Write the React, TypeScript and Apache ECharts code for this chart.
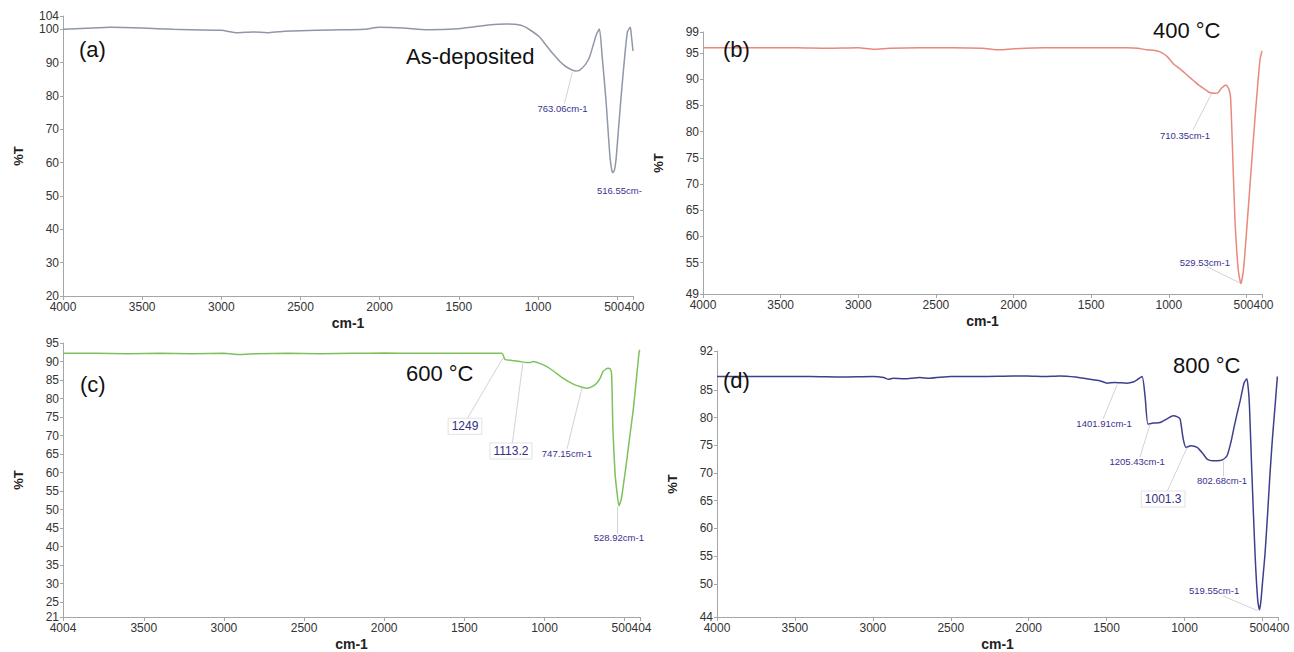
import React, { useEffect, useRef } from "react";
import * as echarts from "echarts";

// ---------- data (wavenumber cm-1, %T) ----------
const waveA = [4000,3850,3700,3500,3300,3000,2900,2800,2700,2600,2500,2300,2100,2000,1850,1700,1500,1400,1300,1200,1150,1100,1050,990,950,908,860,820,763,738,700,675,650,630,612,595,580,568,555,545,535,528,518,507,490,473,455,435,417,410,400];
const tA = [100.0,100.3,100.6,100.4,100.0,99.7,99.0,99.2,99.0,99.4,99.6,99.8,100.0,100.6,100.4,99.9,100.2,100.8,101.4,101.6,101.5,101.1,99.8,97.7,95.3,92.8,90.3,88.7,87.5,87.7,89.5,91.6,95.5,98.6,100.1,92,84,77,68,61.5,58,57,57.6,61,71,81,90.5,99.3,100.6,98,93.5];

const waveB = [4000,3800,3600,3400,3200,3000,2900,2800,2600,2400,2200,2088,2000,1800,1600,1400,1270,1200,1141,1100,1057,1010,973,930,883,840,800,760,735,700,684,660,632,612,602,589,574,553,536,522,510,478,446,413,400];
const tB = [96.0,96.0,96.0,96.0,95.9,96.0,95.7,95.9,96.0,96.0,95.9,95.6,95.8,96.0,96.0,96.0,96.0,95.9,95.6,95.5,95.2,94.3,93.0,92.0,90.8,89.7,88.7,87.9,87.4,87.3,87.4,88.3,88.9,88.0,86.3,75.9,63.1,53.6,51.0,53.0,56.8,69.5,82.2,93.7,95.4];

const waveC = [4004,3800,3600,3400,3200,3000,2900,2800,2600,2400,2200,2000,1800,1600,1400,1265,1247,1200,1153,1113,1090,1072,1030,985,940,885,820,760,735,700,673,650,635,604,590,581,573,560,550,535,520,505,488,467,446,425,409,404];
const tC = [92.2,92.2,92.1,92.2,92.1,92.2,91.9,92.1,92.2,92.1,92.2,92.3,92.2,92.2,92.2,92.2,90.6,90.3,90.0,89.7,89.7,90.0,89.5,88.6,87.3,85.5,83.9,83.0,82.8,83.3,84.2,85.7,87.3,88.2,88.0,86.5,71.7,60,55.6,51.0,53,57.5,62.8,70,77,86,92.7,93.1];

const waveD = [4000,3800,3600,3400,3200,3000,2930,2900,2870,2800,2700,2633,2500,2300,2100,2010,1900,1800,1700,1587,1540,1497,1450,1368,1330,1304,1272,1253,1234,1200,1157,1110,1073,1045,1028,1008,990,960,919,880,855,820,791,760,727,700,680,660,643,617,600,590,583,568,547,530,519,510,497,483,467,451,435,419,404];
const tD = [87.4,87.4,87.4,87.4,87.3,87.4,87.2,86.9,87.1,87.0,87.2,87.1,87.4,87.4,87.5,87.5,87.4,87.5,87.3,86.8,86.6,86.2,86.3,86.2,86.4,86.8,87.4,83.8,78.8,79.0,79.1,79.8,80.3,80.1,79.7,76.1,74.6,74.9,74.6,73.4,72.5,72.2,72.2,72.3,73.1,75.8,78.5,81.0,83.0,86.3,87.0,85,82.0,70.2,55.2,47,45.3,46.8,51,55.5,62.5,70,76.5,82,87.4];

// tick labels (the last x tick sits on an overlay axis so that both 500 and 400 show)
const xTicks = [4000,3500,3000,2500,2000,1500,1000,500,400];
const xTicksC = [4004,3500,3000,2500,2000,1500,1000,500,404];
const yTicksA = [20,30,40,50,60,70,80,90,100,104];
const yTicksB = [49,55,60,65,70,75,80,85,90,95,99];
const yTicksC = [21,25,30,35,40,45,50,55,60,65,70,75,80,85,90,95];
const yTicksD = [44,50,55,60,65,70,75,80,85,90,92];

// peak annotations: label centre, leader start, leader end (data coords)
const peaksA = [
  { text: "763.06cm-1", at: [845, 76.3], from: [833, 77.8], to: [783, 87.1] },
  { text: "516.55cm-", at: [486, 51.7] },
];
const peaksB = [
  { text: "710.35cm-1", at: [896, 79.3], from: [845, 80.3], to: [722, 87.4] },
  { text: "529.53cm-1", at: [768, 55.1], from: [755, 54.2], to: [542, 51.1] },
];
const peaksC = [
  { text: "1249", at: [1496, 72.5], from: [1484, 74.4], to: [1259, 91.0], boxed: true },
  { text: "1113.2", at: [1209, 65.8], from: [1203, 67.1], to: [1134, 89.9], boxed: true },
  { text: "747.15cm-1", at: [860, 65.2], from: [860, 66.3], to: [766, 82.9] },
  { text: "528.92cm-1", at: [536, 42.4], from: [548, 43.5], to: [548, 50.8] },
];
const peaksD = [
  { text: "1401.91cm-1", at: [1516, 78.9], from: [1522, 79.7], to: [1433, 85.9] },
  { text: "1205.43cm-1", at: [1304, 72.0], from: [1285, 72.9], to: [1221, 78.8] },
  { text: "1001.3", at: [1137, 65.3], from: [1112, 66.6], to: [983, 74.6], boxed: true },
  { text: "802.68cm-1", at: [759, 68.7], from: [752, 69.4], to: [752, 72.1] },
  { text: "519.55cm-1", at: [810, 48.8], from: [752, 47.8], to: [528, 45.1] },
];

// ---------- layout / style ----------
const FONT = '"Liberation Sans", Arial, sans-serif';

const panels = [
  { wave: waveA, t: tA, peaks: peaksA, color: "#8f97a8", xMin: 400, xMax: 4000, xT: xTicks, yMin: 20, yMax: 104, yT: yTicksA,
    grid: { left: 63, top: 16, width: 570, height: 280 }, tag: "(a)", tagPos: [79, 49], title: "As-deposited", titlePos: [406, 56] },
  { wave: waveB, t: tB, peaks: peaksB, color: "#e9887c", xMin: 400, xMax: 4000, xT: xTicks, yMin: 49, yMax: 99, yT: yTicksB,
    grid: { left: 703, top: 32, width: 559, height: 262 }, tag: "(b)", tagPos: [723, 49], title: "400 °C", titlePos: [1153, 30] },
  { wave: waveC, t: tC, peaks: peaksC, color: "#7cc25a", xMin: 404, xMax: 4004, xT: xTicksC, yMin: 21, yMax: 95, yT: yTicksC,
    grid: { left: 63, top: 343, width: 577, height: 276 }, tag: "(c)", tagPos: [80, 384], title: "600 °C", titlePos: [406, 373] },
  { wave: waveD, t: tD, peaks: peaksD, color: "#3e3f8e", xMin: 400, xMax: 4000, xT: xTicks, yMin: 44, yMax: 92, yT: yTicksD,
    grid: { left: 717, top: 351, width: 561, height: 268 }, tag: "(d)", tagPos: [723, 380], title: "800 °C", titlePos: [1173, 365] },
];

const TICK_FONT = { fontFamily: FONT, fontSize: 12, color: "#333" };
const richTicks = {
  s: { ...TICK_FONT, padding: [0, 6, 0, 0] },
  e: { ...TICK_FONT, padding: [0, 0, 0, 3] },
};
const mainFmt = (v: number) => (v === 500 ? "{s|500}" : String(v));
const endFmt = (v: number) => "{e|" + String(v) + "}";
const plain = (v: number) => String(v);

export default function App() {
  const ref = useRef<HTMLDivElement>(null);
  useEffect(() => {
    document.body.style.margin = "0";
    if (!ref.current) return;
    const chart = echarts.init(ref.current, null, { renderer: "svg" });
    const axisLineStyle = { color: "#a6a6a6", width: 1 };
    const tickLabel = { ...TICK_FONT, margin: 5, hideOverlap: false };

    const mainX = panels.map((p, i) => {
      const ticks = p.xT.slice(0, -1);
      return {
        type: "value",
        gridIndex: i,
        position: "bottom",
        inverse: true,
        min: p.xMin,
        max: p.xMax,
        name: "cm-1",
        nameLocation: "middle",
        nameGap: 20,
        nameTextStyle: { fontFamily: FONT, fontSize: 14, fontWeight: "bold", color: "#222" },
        axisLine: { lineStyle: axisLineStyle },
        axisTick: { show: true, length: 4, customValues: ticks, lineStyle: axisLineStyle },
        axisLabel: { ...tickLabel, customValues: ticks, formatter: mainFmt, rich: richTicks, showMinLabel: true, showMaxLabel: true },
        splitLine: { show: false },
      };
    });
    const endX = panels.map((p, i) => {
      const ticks = p.xT.slice(-1);
      return {
        type: "value",
        gridIndex: i,
        position: "bottom",
        offset: 0,
        inverse: true,
        min: p.xMin,
        max: p.xMax,
        axisLine: { show: false },
        axisTick: { show: true, length: 4, customValues: ticks, lineStyle: axisLineStyle },
        axisLabel: { ...tickLabel, customValues: ticks, formatter: endFmt, rich: richTicks, showMinLabel: true, showMaxLabel: true },
        splitLine: { show: false },
      };
    });

    const option: any = {
      animation: false,
      backgroundColor: "#ffffff",
      grid: panels.map((p) => ({ ...p.grid, containLabel: false })),
      xAxis: [...mainX, ...endX],
      yAxis: panels.map((p, i) => ({
        type: "value",
        gridIndex: i,
        min: p.yMin,
        max: p.yMax,
        name: "%T",
        nameLocation: "middle",
        nameGap: 38,
        nameTextStyle: { fontFamily: FONT, fontSize: 13, fontWeight: "bold", color: "#222" },
        axisLine: { show: true, lineStyle: axisLineStyle },
        axisTick: { show: true, length: 3, customValues: p.yT, lineStyle: axisLineStyle },
        axisLabel: { ...tickLabel, margin: 4, formatter: plain, customValues: p.yT, showMinLabel: true, showMaxLabel: true },
        splitLine: { show: false },
      })),
      series: panels.map((p, i) => ({
        type: "line",
        xAxisIndex: i,
        yAxisIndex: i,
        data: p.wave.map((w, k) => [w, p.t[k]]),
        symbol: "none",
        showSymbol: false,
        smooth: 0.2,
        lineStyle: { color: p.color, width: 1.5 },
        silent: true,
        markLine: {
          silent: true,
          symbol: ["none", "none"],
          label: { show: false },
          emphasis: { disabled: true },
          lineStyle: { color: "#c6c6d2", width: 0.8, type: "solid" },
          data: p.peaks.filter((q: any) => q.from).map((q: any) => [{ coord: q.from }, { coord: q.to }]),
        },
        markPoint: {
          silent: true,
          symbol: "rect",
          symbolSize: 1,
          itemStyle: { color: "rgba(0,0,0,0)" },
          data: p.peaks.map((q: any) => ({
            coord: q.at,
            value: 0,
            label: q.boxed
              ? { show: true, position: "inside", formatter: q.text, fontFamily: FONT, fontSize: 12, color: "#33307f",
                  backgroundColor: "#ffffff", borderColor: "#e2e2e8", borderWidth: 1, padding: [2, 3, 1, 3] }
              : { show: true, position: "inside", formatter: q.text, fontFamily: FONT, fontSize: 9.5, color: "#3a3190" },
          })),
        },
      })),
      graphic: panels.flatMap((p) => [
        { type: "text", x: p.tagPos[0], y: p.tagPos[1], z: 10,
          style: { text: p.tag, fontFamily: FONT, fontSize: 22, fill: "#111", align: "left", verticalAlign: "middle" } },
        { type: "text", x: p.titlePos[0], y: p.titlePos[1], z: 10,
          style: { text: p.title, fontFamily: FONT, fontSize: 22, fill: "#111", align: "left", verticalAlign: "middle" } },
      ]),
    };
    chart.setOption(option);
    return () => chart.dispose();
  }, []);
  return <div ref={ref} style={{ width: 1294, height: 652 }} />;
}
